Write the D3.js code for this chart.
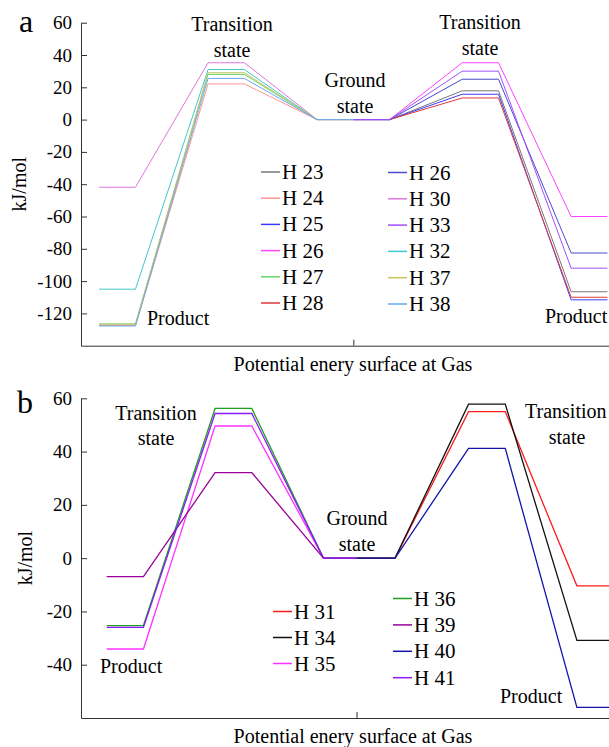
<!DOCTYPE html>
<html>
<head>
<meta charset="utf-8">
<script src="https://cdn.jsdelivr.net/npm/d3@7"></script>
<style>
  body { margin: 0; background: #fff; }
  svg text { font-family: "Liberation Serif", "DejaVu Serif", "Times New Roman", Times, serif; fill: #000; }
</style>
</head>
<body>
<div id="chart"></div>
<script>
// reaction coordinate stops (product, TS, ground) for each half
const leftStopsA = [0.5, 1.5, 3.5, 4.5, 6.5, 7.5]
const rightStopsA = [7.5, 8.5, 10.5, 11.5, 13.5, 14.5]
const leftStopsB = [0.7, 1.7, 3.65, 4.65, 6.6, 7.5]
const rightStopsB = [7.5, 8.55, 10.55, 11.55, 13.5, 14.5]

// panel a
const aNames = ["H 23", "H 24", "H 25", "H 26", "H 27", "H 28", "H 26", "H 30", "H 33", "H 32", "H 37", "H 38"]
const aSide = ["R", "L", "R", "R", "L", "R", "R", "L", "R", "L", "L", "L"]
const aTS = [17.8, 22.1, 15.7, 35.2, 28, 13.4, 25, 35.2, 30, 31, 29, 25.5]
const aProduct = [-106.6, -127.5, -111.6, -60, -126.5, -110, -82.6, -41.9, -92, -105, -126.7, -127.8]
const aColors = ["#777777", "#ff9494", "#3a3aff", "#ff44ff", "#66d466", "#e03a3a", "#4a4ad0", "#dd77dd", "#a050ff", "#44c8c8", "#c4c460", "#6aa8f0"]
const aTicks = [60, 40, 20, 0, -20, -40, -60, -80, -100, -120]

// panel b
const bNames = ["H 31", "H 34", "H 35", "H 36", "H 39", "H 40", "H 41"]
const bSide = ["R", "R", "L", "L", "L", "R", "L"]
const bTS = [55, 57.8, 49.6, 56.2, 32.1, 41.2, 54.3]
const bProduct = [-10.4, -30.9, -34.1, -25.3, -6.9, -56, -26]
const bColors = ["#ff1a1a", "#111111", "#ff33ff", "#1f9e1f", "#990099", "#1414aa", "#8c1aff"]
const bTicks = [60, 40, 20, 0, -20, -40]

const W = 609, H = 747
const FONT = "'Liberation Serif', 'DejaVu Serif', serif"

const svg = d3.select("#chart").append("svg")
  .attr("width", W)
  .attr("height", H)
  .style("font-family", FONT)

function profile(side, ts, prod, stops) {
  const vals = side === "L" ? [prod, prod, ts, ts, 0, 0] : [0, 0, ts, ts, prod, prod]
  return stops.map((s, i) => [s, vals[i]])
}

function panel(opt) {
  const g = svg.append("g")
  const x = d3.scaleLinear().domain([0, 15]).range(opt.xRange)
  const y = d3.scaleLinear().domain(opt.yDomain).range(opt.yRange)

  g.append("g")
    .attr("transform", `translate(${opt.xRange[0]},0)`)
    .call(d3.axisLeft(y).tickValues(opt.ticks).tickFormat(d => String(d))
      .tickSizeInner(-6).tickSizeOuter(0).tickPadding(9))
    .attr("font-family", FONT)
    .call(a => a.selectAll("text").attr("font-size", 19).attr("fill", "#000"))
    .call(a => a.selectAll("path,line").attr("stroke", "#333"))

  g.append("g")
    .attr("transform", `translate(0,${opt.yRange[0]})`)
    .call(d3.axisBottom(x).tickValues([7.5]).tickSizeInner(-6).tickSizeOuter(0).tickFormat(""))
    .call(a => a.selectAll("path,line").attr("stroke", "#333"))

  const line = d3.line().x(d => x(d[0])).y(d => y(d[1]))

  opt.names.forEach((n, i) => {
    const stops = opt.side[i] === "L" ? opt.leftStops : opt.rightStops
    g.append("path")
      .datum(profile(opt.side[i], opt.ts[i], opt.prod[i], stops))
      .attr("fill", "none")
      .attr("stroke", opt.colors[i])
      .attr("stroke-width", opt.lw)
      .attr("d", line)
  })

  // legend
  opt.legend.forEach(col => {
    col.idx.forEach((k, r) => {
      const ly = col.y0 + r * col.dy
      g.append("line")
        .attr("x1", col.x).attr("x2", col.x + 19)
        .attr("y1", ly).attr("y2", ly)
        .attr("stroke", opt.colors[k]).attr("stroke-width", 1.5)
      g.append("text")
        .attr("x", col.x + 21).attr("y", ly + 7)
        .attr("font-size", 21)
        .text(opt.names[k])
    })
  })

  opt.labels.forEach(l => {
    g.append("text")
      .attr("x", l[0]).attr("y", l[1])
      .attr("text-anchor", l[3] || "start")
      .attr("font-size", 20)
      .text(l[2])
  })

  g.append("text")
    .attr("transform", `translate(${opt.yLabelX},${(opt.yRange[0] + opt.yRange[1]) / 2}) rotate(-90)`)
    .attr("text-anchor", "middle")
    .attr("dy", "0.35em")
    .attr("font-size", 20)
    .text("kJ/mol")

  g.append("text")
    .attr("x", 353).attr("y", opt.xLabelY)
    .attr("text-anchor", "middle")
    .attr("font-size", 20)
    .text("Potential enery surface at Gas")

  g.append("text")
    .attr("x", opt.tag[0]).attr("y", opt.tag[1])
    .attr("font-size", 32)
    .text(opt.tag[2])
}

panel({
  xRange: [81, 625.6], yDomain: [-140, 60], yRange: [345.7, 22.7], ticks: aTicks,
  names: aNames, side: aSide, ts: aTS, prod: aProduct, colors: aColors, lw: 1,
  leftStops: leftStopsA, rightStops: rightStopsA,
  legend: [
    { x: 261, y0: 172, dy: 26.2, idx: [0, 1, 2, 3, 4, 5] },
    { x: 388, y0: 172.5, dy: 26.3, idx: [6, 7, 8, 9, 10, 11] }
  ],
  labels: [
    [232, 31, "Transition", "middle"], [232, 57, "state", "middle"],
    [480, 29, "Transition", "middle"], [480, 55, "state", "middle"],
    [355, 87, "Ground", "middle"], [355, 113, "state", "middle"],
    [147, 325, "Product"], [545, 323, "Product"]
  ],
  yLabelX: 19, xLabelY: 371, tag: [19, 32, "a"]
})

panel({
  xRange: [81, 632], yDomain: [-60, 60], yRange: [718, 398.3], ticks: bTicks,
  names: bNames, side: bSide, ts: bTS, prod: bProduct, colors: bColors, lw: 1.3,
  leftStops: leftStopsB, rightStops: rightStopsB,
  legend: [
    { x: 273, y0: 611.5, dy: 26, idx: [0, 1, 2] },
    { x: 393, y0: 598.5, dy: 26.4, idx: [3, 4, 5, 6] }
  ],
  labels: [
    [156, 420, "Transition", "middle"], [156, 445, "state", "middle"],
    [525, 418, "Transition"], [567, 444, "state", "middle"],
    [357, 525, "Ground", "middle"], [357, 551, "state", "middle"],
    [100, 673, "Product"], [500, 703, "Product"]
  ],
  yLabelX: 25, xLabelY: 743, tag: [17, 413, "b"]
})
</script>
</body>
</html>
